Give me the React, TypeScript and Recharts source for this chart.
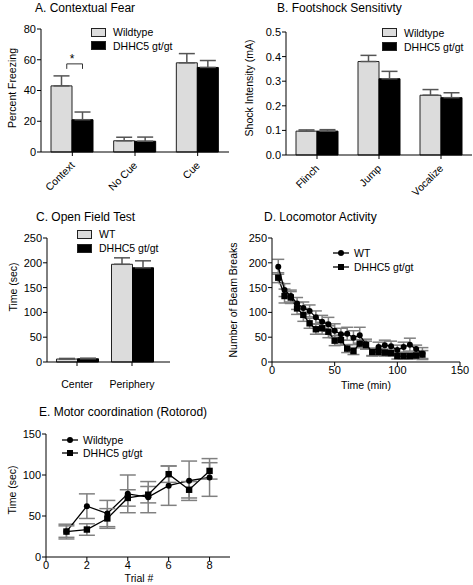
import React from 'react'
import { BarChart, Bar, LineChart, Line, XAxis, YAxis, ErrorBar, LabelList } from 'recharts'

// A. Contextual fear
const fearCats = ['Context', 'No Cue', 'Cue']
const fearWT = [43, 7.3, 58]
const fearWTErr = [6.5, 2.3, 6]
const fearKO = [21, 7, 55]
const fearKOErr = [5, 2.7, 4.5]
const fearSig = ['*', '', '']
const fearTicks = [0, 20, 40, 60, 80]

// B. Footshock sensitivity
const shockCats = ['Flinch', 'Jump', 'Vocalize']
const shockWT = [0.097, 0.38, 0.243]
const shockWTErr = [0.005, 0.025, 0.023]
const shockKO = [0.097, 0.31, 0.233]
const shockKOErr = [0.006, 0.03, 0.02]
const shockTicks = [0, 0.1, 0.2, 0.3, 0.4, 0.5]

// C. Open field
const fieldCats = ['Center', 'Periphery']
const fieldWT = [6, 197]
const fieldWTErr = [1.2, 13]
const fieldKO = [6.5, 190]
const fieldKOErr = [1.2, 14]
const fieldTicks = [0, 50, 100, 150, 200, 250]

// D. Locomotor activity
const locoTime = [5, 10, 15, 20, 25, 30, 35, 40, 45, 50, 55, 60, 65, 70, 75, 80, 85, 90, 95, 100, 105, 110, 115, 120]
const locoWT = [192, 145, 133, 118, 109, 103, 90, 81, 76, 63, 56, 57, 49, 54, 36, 20, 30, 34, 32, 24, 30, 35, 26, 17]
const locoWTErr = [15, 13, 12, 12, 12, 12, 13, 13, 14, 14, 12, 13, 14, 16, 10, 8, 10, 10, 10, 10, 10, 13, 8, 12]
const locoKO = [170, 133, 130, 108, 95, 78, 66, 68, 61, 43, 44, 27, 22, 37, 34, 20, 20, 19, 18, 12, 12, 12, 13, 15]
const locoKOErr = [10, 14, 12, 12, 13, 10, 10, 12, 12, 10, 10, 8, 7, 8, 8, 7, 7, 7, 6, 6, 6, 6, 6, 8]
const locoXTicks = [0, 50, 100, 150]
const locoYTicks = [0, 50, 100, 150, 200, 250]

// E. Rotorod
const rotoTrial = [1, 2, 3, 4, 5, 6, 7, 8]
const rotoWT = [31, 62, 53, 77, 73, 87, 93, 97]
const rotoWTErr = [9, 15, 16, 23, 19, 24, 24, 23]
const rotoKO = [31, 33.5, 47, 72, 76, 101, 82, 105]
const rotoKOErr = [7, 7, 12, 10, 10, 10, 10, 10]
const rotoXTicks = [0, 2, 4, 6, 8]
const rotoYTicks = [0, 50, 100, 150]

const fearData = fearCats.map((cat, i) => ({
  cat, wt: fearWT[i], wtErr: [0, fearWTErr[i]], ko: fearKO[i], koErr: [0, fearKOErr[i]], sig: fearSig[i],
}))
const shockData = shockCats.map((cat, i) => ({
  cat, wt: shockWT[i], wtErr: [0, shockWTErr[i]], ko: shockKO[i], koErr: [0, shockKOErr[i]],
}))
const fieldData = fieldCats.map((cat, i) => ({
  cat, wt: fieldWT[i], wtErr: [0, fieldWTErr[i]], ko: fieldKO[i], koErr: [0, fieldKOErr[i]],
}))
const locoData = locoTime.map((t, i) => ({
  t, wt: locoWT[i], wtErr: locoWTErr[i], ko: locoKO[i], koErr: locoKOErr[i],
}))
const rotoData = rotoTrial.map((t, i) => ({
  t, wt: rotoWT[i], wtErr: rotoWTErr[i], ko: rotoKO[i], koErr: rotoKOErr[i],
}))

const WT_FILL = '#dcdcdc'
const ERR = '#555'
const LINE_ERR = '#808080'
const tickStyle = { fill: '#000', fontSize: 11 }
const axisLine = { stroke: '#000' }

const RotTick = (p: any) => {
  const x = p.x + 3
  const y = p.y + 8
  return (
    <text x={x} y={y} transform={`rotate(-45 ${x} ${y})`} textAnchor="end" fontSize={10.5} fill="#000">
      {p.payload.value}
    </text>
  )
}

const SigBracket = (p: any) => {
  if (!p.value) return null
  const vb = p.viewBox ?? p
  const x = Number(vb.x), y = Number(vb.y), w = Number(vb.width)
  const l = x + w * 0.75
  const r = x + w * 1.5
  const top = y - 22
  return (
    <g>
      <path d={`M${l},${top + 5} V${top} H${r} V${top + 5}`} fill="none" stroke="#333" strokeWidth={1} />
      <text x={x + w} y={y - 23} textAnchor="middle" fontSize={12} fill="#000">{p.value}</text>
    </g>
  )
}

const CircleDot = (p: any) => <circle key={`c${p.index}`} cx={p.cx} cy={p.cy} r={3} fill="#000" />
const SquareDot = (p: any) => (
  <rect key={`s${p.index}`} x={p.cx - 3.2} y={p.cy - 3.2} width={6.4} height={6.4} fill="#000" />
)

const Title = ({ x, y, children }: any) => (
  <div style={{ position: 'absolute', left: x, top: y - 7, fontSize: 12, lineHeight: '14px', whiteSpace: 'nowrap' }}>
    {children}
  </div>
)

const YLabel = ({ x, y, children }: any) => (
  <div style={{
    position: 'absolute', left: x, top: y, fontSize: 10.5, lineHeight: '12px', whiteSpace: 'nowrap',
    transform: 'translate(-50%, -50%) rotate(-90deg)',
  }}>{children}</div>
)

const XLabel = ({ x, y, children }: any) => (
  <div style={{
    position: 'absolute', left: x, top: y, fontSize: 10.5, lineHeight: '12px', whiteSpace: 'nowrap',
    transform: 'translate(-50%, -50%)',
  }}>{children}</div>
)

const BarKey = ({ x, y, gap, labels }: any) => (
  <div style={{ position: 'absolute', left: x, top: y - 6, fontSize: 10.5, lineHeight: '12px' }}>
    {labels.map((lab: string, i: number) => (
      <div key={lab} style={{ display: 'flex', alignItems: 'center', height: 12, marginTop: i ? gap - 12 : 0 }}>
        <span style={{
          display: 'inline-block', width: 13, height: 7, marginRight: 7,
          background: i ? '#000' : WT_FILL, border: '1px solid #222',
        }} />
        {lab}
      </div>
    ))}
  </div>
)

const LineKey = ({ x, y, gap, labels }: any) => (
  <div style={{ position: 'absolute', left: x, top: y - 6, fontSize: 10.5, lineHeight: '12px' }}>
    {labels.map((lab: string, i: number) => (
      <div key={lab} style={{ display: 'flex', alignItems: 'center', height: 12, marginTop: i ? gap - 12 : 0 }}>
        <svg width={16} height={10} style={{ marginRight: 5 }}>
          <line x1={0} y1={5} x2={16} y2={5} stroke="#000" strokeWidth={1.3} />
          {i ? <rect x={5} y={2} width={6} height={6} fill="#000" /> : <circle cx={8} cy={5} r={3} fill="#000" />}
        </svg>
        {lab}
      </div>
    ))}
  </div>
)

const Panel = ({ left, top, children }: any) => (
  <div style={{ position: 'absolute', left, top }}>{children}</div>
)

export default function App() {
  return (
    <div style={{
      position: 'absolute', left: 0, top: 0, width: 473, height: 585, background: '#fff',
      fontFamily: '"Liberation Sans", Arial, sans-serif', color: '#000',
    }}>
      <style>{'.recharts-surface{overflow:visible}'}</style>
      {/* A */}
      <Panel left={0} top={0}>
        <BarChart width={240} height={190} data={fearData} margin={{ top: 29, right: 11, bottom: 0, left: 0 }} barGap={0}>
          <XAxis dataKey="cat" height={38} interval={0} tickSize={4} axisLine={axisLine} tickLine={axisLine} tick={<RotTick />} />
          <YAxis width={41} domain={[0, 80]} ticks={fearTicks} tickSize={4} tickMargin={1} axisLine={axisLine} tickLine={axisLine} tick={tickStyle} />
          <Bar dataKey="wt" fill={WT_FILL} stroke="#222" barSize={21} isAnimationActive={false}>
            <ErrorBar dataKey="wtErr" width={8} stroke={ERR} direction="y" />
            <LabelList dataKey="sig" content={SigBracket} />
          </Bar>
          <Bar dataKey="ko" fill="#000" stroke="#000" barSize={21} isAnimationActive={false}>
            <ErrorBar dataKey="koErr" width={8} stroke={ERR} direction="y" />
          </Bar>
        </BarChart>
      </Panel>
      <Title x={35} y={8}>A. Contextual Fear</Title>
      <YLabel x={12} y={88}>Percent Freezing</YLabel>
      <BarKey x={91} y={32} gap={13.5} labels={['Wildtype', 'DHHC5 gt/gt']} />

      {/* B */}
      <Panel left={236} top={0}>
        <BarChart width={237} height={195} data={shockData} margin={{ top: 32, right: 1, bottom: 0, left: 0 }} barGap={0}>
          <XAxis dataKey="cat" height={40} interval={0} tickSize={4} axisLine={axisLine} tickLine={axisLine} tick={<RotTick />} />
          <YAxis width={50} domain={[0, 0.5]} ticks={shockTicks} tickFormatter={(v: number) => v.toFixed(1)} tickSize={4} tickMargin={1} axisLine={axisLine} tickLine={axisLine} tick={tickStyle} />
          <Bar dataKey="wt" fill={WT_FILL} stroke="#222" barSize={21} isAnimationActive={false}>
            <ErrorBar dataKey="wtErr" width={8} stroke={ERR} direction="y" />
          </Bar>
          <Bar dataKey="ko" fill="#000" stroke="#000" barSize={21} isAnimationActive={false}>
            <ErrorBar dataKey="koErr" width={8} stroke={ERR} direction="y" />
          </Bar>
        </BarChart>
      </Panel>
      <Title x={277} y={8}>B. Footshock Sensitivty</Title>
      <YLabel x={249} y={88}>Shock Intensity (mA)</YLabel>
      <BarKey x={382} y={32.5} gap={14} labels={['Wildtype', 'DHHC5 gt/gt']} />

      {/* C */}
      <Panel left={0} top={190}>
        <BarChart width={236} height={200} data={fieldData} margin={{ top: 48, right: 66, bottom: 0, left: 0 }} barGap={0}>
          <XAxis dataKey="cat" height={28} interval={0} tickSize={4} tickMargin={15} padding={{ left: 2.5, right: 10.5 }} axisLine={axisLine} tickLine={axisLine} tick={{ fill: '#000', fontSize: 10.5 }} />
          <YAxis width={47} domain={[0, 250]} ticks={fieldTicks} tickSize={4} tickMargin={1} axisLine={axisLine} tickLine={axisLine} tick={tickStyle} />
          <Bar dataKey="wt" fill={WT_FILL} stroke="#222" barSize={21} isAnimationActive={false}>
            <ErrorBar dataKey="wtErr" width={8} stroke={ERR} direction="y" />
          </Bar>
          <Bar dataKey="ko" fill="#000" stroke="#000" barSize={21} isAnimationActive={false}>
            <ErrorBar dataKey="koErr" width={8} stroke={ERR} direction="y" />
          </Bar>
        </BarChart>
      </Panel>
      <Title x={36} y={217}>C. Open Field Test</Title>
      <YLabel x={13} y={287}>Time (sec)</YLabel>
      <BarKey x={77} y={234} gap={14} labels={['WT', 'DHHC5 gt/gt']} />

      {/* D */}
      <Panel left={236} top={190}>
        <LineChart width={237} height={200} data={locoData} margin={{ top: 48, right: 13, bottom: 0, left: 0 }}>
          <XAxis dataKey="t" type="number" domain={[0, 150]} ticks={locoXTicks} height={28} tickSize={4} tickMargin={0} axisLine={axisLine} tickLine={axisLine} tick={tickStyle} />
          <YAxis width={36} domain={[0, 250]} ticks={locoYTicks} tickSize={4} tickMargin={1} axisLine={axisLine} tickLine={axisLine} tick={tickStyle} />
          <Line dataKey="ko" stroke="#000" strokeWidth={1.3} dot={SquareDot} isAnimationActive={false}>
            <ErrorBar dataKey="koErr" width={6} stroke={LINE_ERR} direction="y" />
          </Line>
          <Line dataKey="wt" stroke="#000" strokeWidth={1.3} dot={CircleDot} isAnimationActive={false}>
            <ErrorBar dataKey="wtErr" width={6} stroke={LINE_ERR} direction="y" />
          </Line>
        </LineChart>
      </Panel>
      <Title x={264} y={217}>D. Locomotor Activity</Title>
      <YLabel x={233} y={300}>Number of Beam Breaks</YLabel>
      <XLabel x={366} y={385}>Time (min)</XLabel>
      <LineKey x={333} y={253} gap={14} labels={['WT', 'DHHC5 gt/gt']} />

      {/* E */}
      <Panel left={0} top={390}>
        <LineChart width={240} height={195} data={rotoData} margin={{ top: 44, right: 10, bottom: 0, left: 0 }}>
          <XAxis dataKey="t" type="number" domain={[0, 9]} ticks={rotoXTicks} height={28} tickSize={4} tickMargin={0} axisLine={axisLine} tickLine={axisLine} tick={tickStyle} />
          <YAxis width={46} domain={[0, 150]} ticks={rotoYTicks} tickSize={4} tickMargin={1} axisLine={axisLine} tickLine={axisLine} tick={tickStyle} />
          <Line dataKey="wt" stroke="#000" strokeWidth={1.3} dot={CircleDot} isAnimationActive={false}>
            <ErrorBar dataKey="wtErr" width={8} stroke={LINE_ERR} direction="y" />
          </Line>
          <Line dataKey="ko" stroke="#000" strokeWidth={1.3} dot={SquareDot} isAnimationActive={false}>
            <ErrorBar dataKey="koErr" width={8} stroke={LINE_ERR} direction="y" />
          </Line>
        </LineChart>
      </Panel>
      <Title x={39} y={412}>E. Motor coordination (Rotorod)</Title>
      <YLabel x={12} y={490}>Time (sec)</YLabel>
      <XLabel x={139} y={578}>Trial #</XLabel>
      <LineKey x={62} y={440} gap={12.5} labels={['Wildtype', 'DHHC5 gt/gt']} />
    </div>
  )
}
